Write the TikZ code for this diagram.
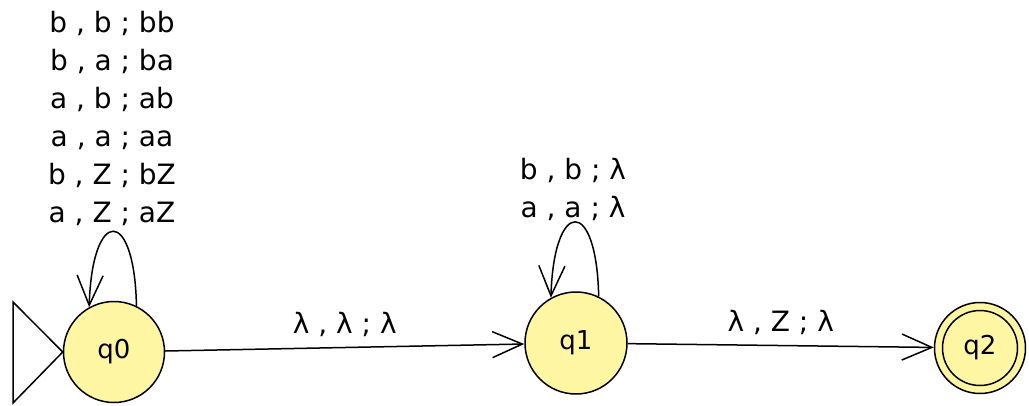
\documentclass[tikz,border=0pt]{standalone}
\usepackage{fontspec}
\setmainfont{DejaVu Sans}
\usetikzlibrary{arrows.meta}
\definecolor{statefill}{HTML}{FFF6A3}
\tikzset{
  stt/.style={circle, draw=black, line width=1.5pt, fill=statefill, inner sep=0pt, font=\fontsize{26}{28}\selectfont},
  edge/.style={line width=1.5pt, -{Straight Barb[length=30pt,width=26pt,line width=1.5pt]}},
  lbl/.style={font=\fontsize{28}{38}\selectfont, align=center, inner sep=0pt}
}
\begin{document}
\begin{tikzpicture}[x=1pt,y=-1pt]
\useasboundingbox (0,0) rectangle (1029,405);
\node[stt, minimum size=101pt] (q0) at (114,352) {q0};
\node[stt, minimum size=102pt] (q1) at (576,343) {q1};
\node[stt, minimum size=91pt] (q2) at (980,348) {q2};
\draw[line width=1.5pt] (q2) circle (37.5pt);
% initial triangle
\coordinate (t1) at (13,302);
\coordinate (t2) at (13,403);
\draw[line width=1.5pt, line join=miter] (t1) -- (q0.west) -- (t2) -- cycle;
% edges
\draw[edge] (q0) -- node[lbl, above=10pt] {λ , λ ; λ} (q1);
\draw[edge] (q1) -- node[lbl, above=10pt] {λ , Z ; λ} (q2);
% loops
\draw[edge] (q0.64) .. controls +(-2,-100) and +(3,-100) .. (q0.119);
\draw[edge] (q1.64) .. controls +(-2,-100) and +(3,-100) .. (q1.119);
% loop labels
\node[lbl] (l0) at (112,118) {b , b ; bb\\b , a ; ba\\a , b ; ab\\a , a ; aa\\b , Z ; bZ\\a , Z ; aZ};
\node[lbl] (l1) at (573,189) {b , b ; λ\\a , a ; λ};
\end{tikzpicture}
\end{document}
